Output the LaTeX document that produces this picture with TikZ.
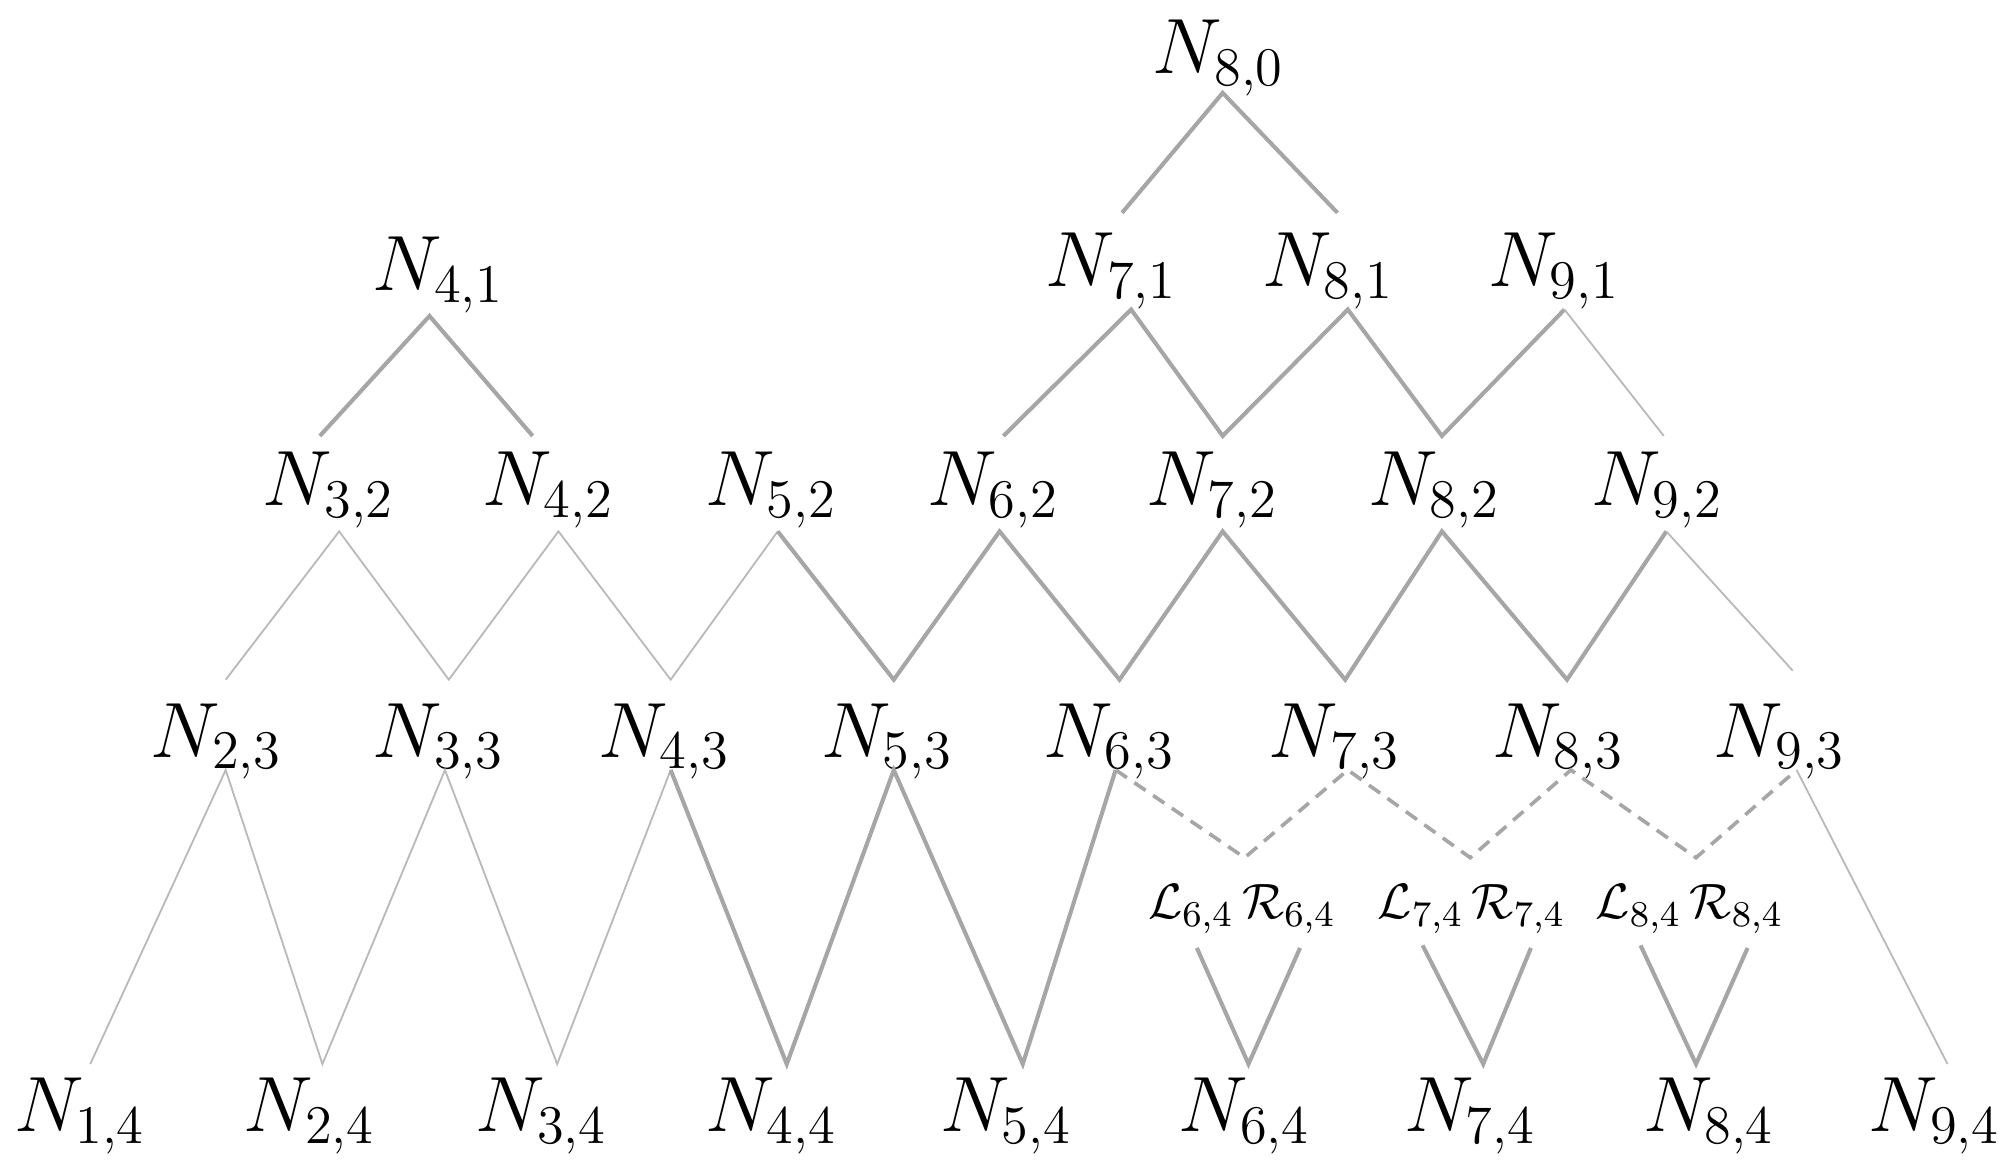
\documentclass[tikz,border=0pt]{standalone}
\begin{document}
\begin{tikzpicture}[x=0.01cm,y=-0.01cm,
  lab/.style={inner sep=0pt,font=\fontsize{17}{20}\selectfont},
  slab/.style={inner sep=0pt,font=\fontsize{11}{13}\selectfont},
  thk/.style={draw=gray!70,line width=0.9pt},
  thn/.style={draw=gray!55,line width=0.4pt},
  dsh/.style={draw=gray!70,line width=0.8pt,dashed,dash pattern=on 3pt off 2pt}]
\useasboundingbox (0,0) rectangle (1560,906);
% labels
\node[lab] (n80) at (945,45) {$N_{8,0}$};
\node[lab] (n41) at (340,213) {$N_{4,1}$};
\foreach \i/\x in {7/862,8/1030,9/1205} \node[lab] (n\i1) at (\x,210) {$N_{\i,1}$};
\foreach \i/\x in {3/255,4/425,5/598,6/770,7/940,8/1112,9/1285} \node[lab] (n\i2) at (\x,380) {$N_{\i,2}$};
\foreach \i/\x in {2/168,3/340,4/515,5/688,6/860,7/1035,8/1208,9/1380} \node[lab] (n\i3) at (\x,575) {$N_{\i,3}$};
\foreach \i/\x in {1/62,2/240,3/420,4/598,5/780,6/965,7/1140,8/1325,9/1500} \node[lab] (n\i4) at (\x,865) {$N_{\i,4}$};
\foreach \i/\x in {6/963,7/1141,8/1310} \node[slab] (lr\i) at (\x,705) {$\mathcal{L}_{\i,4}\,\mathcal{R}_{\i,4}$};
% coordinates
\coordinate (a0) at (870,165); \coordinate (t0) at (948,72); \coordinate (b0) at (1037,165);
\coordinate (a1) at (248,338); \coordinate (t1) at (333,245); \coordinate (b1) at (413,338);
% row 1-2
\draw[thk] (a0) -- (t0) -- (b0);
\draw[thk] (a1) -- (t1) -- (b1);
\draw[thk] (778,338) -- (877,240) -- (948,338) -- (1045,240) -- (1118,338) -- (1213,240);
\draw[thn] (1213,240) -- (1290,338);
% row 2-3
\draw[thn] (175,527) -- (263,412) -- (348,527) -- (433,412) -- (520,527) -- (603,412);
\draw[thk] (603,412) -- (693,527) -- (775,412) -- (868,527) -- (948,412) -- (1043,527) -- (1118,412) -- (1215,527) -- (1292,412);
\draw[thn] (1292,412) -- (1390,520);
% row 3-4
\draw[thn] (70,825) -- (175,597) -- (250,825) -- (345,597) -- (432,825) -- (520,597);
\draw[thk] (520,597) -- (610,825) -- (693,597) -- (793,825) -- (865,597);
\draw[dsh] (865,597) -- (965,665) -- (1045,597) -- (1140,665) -- (1218,597) -- (1315,665) -- (1393,597);
\draw[thn] (1393,597) -- (1510,825);
\draw[thk] (928,735) -- (968,825) -- (1008,735);
\draw[thk] (1103,733) -- (1150,825) -- (1187,735);
\draw[thk] (1272,733) -- (1315,825) -- (1355,735);
\end{tikzpicture}
\end{document}
